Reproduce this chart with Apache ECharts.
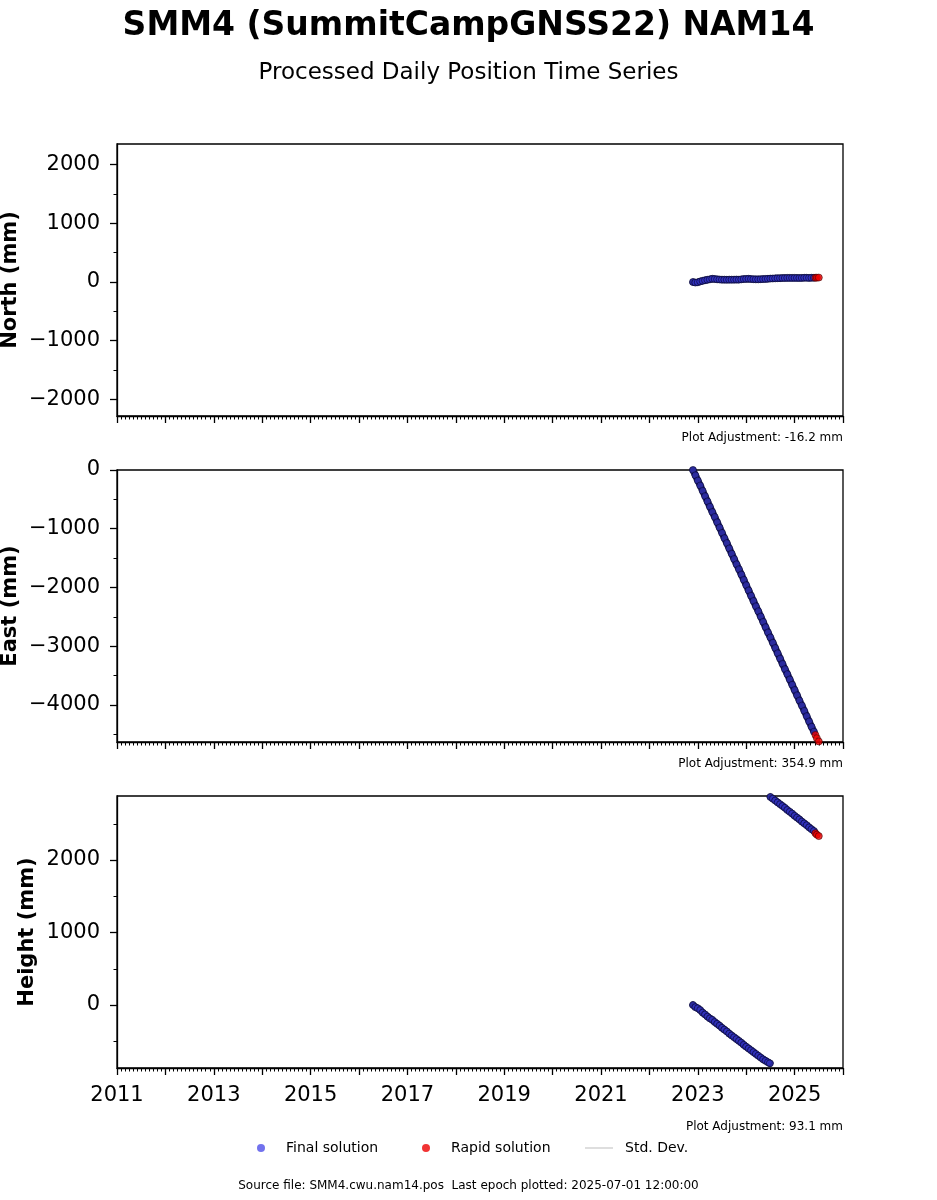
<!DOCTYPE html>
<html>
<head>
<meta charset="utf-8">
<script src="https://cdn.jsdelivr.net/npm/echarts@6/dist/echarts.min.js"></script>
<style>
html,body{margin:0;padding:0;background:#fff;}
#chart{width:937px;height:1200px;}
</style>
</head>
<body>
<div id="chart"></div>
<script>
// ---- Data (decimal years, mm) ----
const xTicks = [2011,2012,2013,2014,2015,2016,2017,2018,2019,2020,2021,2022,2023,2024,2025,2026];

const finalDates = [2022.90,2022.95,2023.00,2023.05,2023.10,2023.15,2023.20,2023.25,2023.30,2023.35,
  2023.40,2023.45,2023.50,2023.55,2023.60,2023.65,2023.70,2023.75,2023.80,2023.85,
  2023.90,2023.95,2024.00,2024.05,2024.10,2024.15,2024.20,2024.25,2024.30,2024.35,
  2024.40,2024.45,2024.50,2024.55,2024.60,2024.65,2024.70,2024.75,2024.80,2024.85,
  2024.90,2024.95,2025.00,2025.05,2025.10,2025.15,2025.20,2025.25,2025.30,2025.35,2025.40];
const rapidDates = [2025.43,2025.46,2025.50];

const northFinal = [0,-10,-5,10,20,30,38,45,55,50,
  45,42,40,40,38,40,40,40,42,40,
  45,50,52,55,50,48,45,45,48,50,
  52,55,58,60,62,65,65,68,68,70,
  70,70,70,70,68,70,72,72,70,72,72];
const northRapid = [72,74,75];

const eastFinal = [0,-90,-180,-265,-355,-445,-535,-625,-715,-800,
  -890,-980,-1070,-1160,-1245,-1335,-1425,-1515,-1605,-1690,
  -1780,-1870,-1960,-2050,-2140,-2230,-2320,-2405,-2495,-2585,
  -2675,-2765,-2850,-2940,-3030,-3120,-3210,-3300,-3390,-3475,
  -3565,-3655,-3745,-3835,-3925,-4010,-4100,-4190,-4280,-4370,-4455];
const eastRapid = [-4510,-4565,-4620];

const heightLowDates = [2022.90,2022.95,2023.00,2023.05,2023.10,2023.15,2023.20,2023.25,2023.30,2023.35,
  2023.40,2023.45,2023.50,2023.55,2023.60,2023.65,2023.70,2023.75,2023.80,2023.85,
  2023.90,2023.95,2024.00,2024.05,2024.10,2024.15,2024.20,2024.25,2024.30,2024.35,
  2024.40,2024.45,2024.49];
const heightLow = [0,-30,-45,-70,-105,-130,-160,-185,-205,-235,
  -260,-285,-315,-340,-365,-395,-420,-445,-470,-495,
  -520,-550,-575,-600,-625,-650,-675,-700,-725,-750,
  -770,-790,-805];
const heightHighDates = [2024.50,2024.55,2024.60,2024.65,2024.70,2024.75,2024.80,2024.85,2024.90,2024.95,
  2025.00,2025.05,2025.10,2025.15,2025.20,2025.25,2025.30,2025.35,2025.40];
const heightHigh = [2870,2845,2820,2795,2770,2745,2720,2690,2665,2640,
  2610,2585,2560,2530,2505,2480,2450,2425,2400];
const heightRapid = [2370,2350,2330];

const northRange = [-2283, 2351], northTicks = [-2000,-1000,0,1000,2000], northMinor = [-1500,-500,500,1500];
const eastRange = [-4630, 0], eastTicks = [-4000,-3000,-2000,-1000,0], eastMinor = [-4500,-3500,-2500,-1500,-500];
const heightRange = [-869, 2883], heightTicks = [0,1000,2000], heightMinor = [-500,500,1500,2500];

const adjustments = ['Plot Adjustment: -16.2 mm','Plot Adjustment: 354.9 mm','Plot Adjustment: 93.1 mm'];

// ---- Chart ----
const FONT = 'DejaVu Sans';
const zip = (xs, ys) => xs.map((x, i) => [x, ys[i]]);
const fmtNum = v => String(v).replace('-', '\u2212');

const grids = [
  {left:117, top:144, width:726, height:272},
  {left:117, top:470, width:726, height:272},
  {left:117, top:796, width:726, height:272}
].map(g => Object.assign(g, {show:true, containLabel:false, outerBoundsMode:'none',
  borderColor:'#000', borderWidth:1.3, backgroundColor:'transparent'}));

function xAxisFor(i, labels){
  return {
    type:'value', gridIndex:i, min:xTicks[0], max:xTicks[xTicks.length-1], interval:1,
    axisLine:{show:true, onZero:false, lineStyle:{color:'#000', width:1.3}},
    axisTick:{show:true, length:7, lineStyle:{color:'#000', width:1.3}},
    minorTick:{show:true, splitNumber:12, length:3.5, lineStyle:{color:'#000', width:1}},
    splitLine:{show:false}, minorSplitLine:{show:false},
    axisLabel:{show:labels, margin:17, color:'#000', fontFamily:FONT, fontSize:21,
      formatter: v => (Math.round(v) % 2 === 1 ? String(Math.round(v)) : '')}
  };
}
function yMain(i, range, ticks, name, gap){
  return {
    type:'value', gridIndex:i, min:range[0], max:range[1],
    name:name, nameLocation:'middle', nameGap:gap, nameRotate:90, nameMoveOverlap:false,
    nameTextStyle:{fontFamily:FONT, fontSize:21, fontWeight:'bold', color:'#000'},
    axisLine:{show:true, onZero:false, lineStyle:{color:'#000', width:1.3}},
    axisTick:{show:true, length:7, customValues:ticks, lineStyle:{color:'#000', width:1.3}},
    axisLabel:{show:true, customValues:ticks, margin:17, color:'#000', fontFamily:FONT, fontSize:21, formatter: fmtNum},
    splitLine:{show:false}
  };
}
function yMinor(i, range, minors){
  return {
    type:'value', gridIndex:i, min:range[0], max:range[1], position:'left',
    axisLine:{show:false, onZero:false},
    axisTick:{show:true, length:3.5, customValues:minors, lineStyle:{color:'#000', width:1}},
    axisLabel:{show:false, customValues:minors},
    splitLine:{show:false}
  };
}

const finalStyle = {color:'rgba(55,55,210,0.7)', borderColor:'rgba(0,0,30,0.9)', borderWidth:0.8};
const rapidStyle = {color:'#ee0000', borderColor:'rgba(60,0,0,0.9)', borderWidth:0.8};
function sc(name, xi, yi, data, style){
  return {name:name, type:'scatter', xAxisIndex:xi, yAxisIndex:yi, data:data, symbol:'circle', symbolSize:7,
    itemStyle:style, animation:false, clip:true, emphasis:{disabled:true}, z:3};
}
// dense band under the daily markers (same data, drawn as a thick line)
function band(xi, yi, data){
  return {type:'line', xAxisIndex:xi, yAxisIndex:yi, data:data, showSymbol:false, symbol:'none', clip:true,
    lineStyle:{color:'#1c1c5c', width:7, cap:'round', join:'round'}, animation:false, silent:true, z:2};
}

const option = {
  backgroundColor:'#fff',
  animation:false,
  title:[
    {text:'SMM4 (SummitCampGNSS22) NAM14', left:'center', top:5,
      textStyle:{fontFamily:FONT, fontSize:33, fontWeight:'bold', color:'#000'}},
    {text:'Processed Daily Position Time Series', left:'center', top:57,
      textStyle:{fontFamily:FONT, fontSize:23, fontWeight:'normal', color:'#000'}}
  ],
  grid: grids,
  xAxis:[xAxisFor(0,false), xAxisFor(1,false), xAxisFor(2,true)],
  yAxis:[
    yMain(0, northRange, northTicks, 'North (mm)', 96),
    yMain(1, eastRange, eastTicks, 'East (mm)', 96),
    yMain(2, heightRange, heightTicks, 'Height (mm)', 79),
    yMinor(0, northRange, northMinor),
    yMinor(1, eastRange, eastMinor),
    yMinor(2, heightRange, heightMinor)
  ],
  legend:[
    {data:['Final solution'], left:257, top:1141, padding:0, itemWidth:40, itemHeight:8, icon:'circle',
      itemStyle:{color:'#4f4fe8', borderWidth:0},
      textStyle:{fontFamily:FONT, fontSize:14, color:'#000'}, selectedMode:false},
    {data:['Rapid solution'], left:422, top:1141, padding:0, itemWidth:40, itemHeight:8, icon:'circle',
      itemStyle:{color:'#ee0000', borderWidth:0},
      textStyle:{fontFamily:FONT, fontSize:14, color:'#000'}, selectedMode:false},
    {data:['Std. Dev.'], left:585, top:1141, padding:0, itemWidth:28, itemHeight:1.5, icon:'rect',
      textStyle:{fontFamily:FONT, fontSize:14, color:'#000', padding:[0,0,0,7]}, selectedMode:false}
  ],
  graphic:[
    {type:'text', right:937-843, top:432, style:{text:adjustments[0], font:'12px "DejaVu Sans"', fill:'#000', textAlign:'right'}},
    {type:'text', right:937-843, top:758, style:{text:adjustments[1], font:'12px "DejaVu Sans"', fill:'#000', textAlign:'right'}},
    {type:'text', right:937-843, top:1121, style:{text:adjustments[2], font:'12px "DejaVu Sans"', fill:'#000', textAlign:'right'}},
    {type:'text', left:'center', top:1180, style:{text:'Source file: SMM4.cwu.nam14.pos  Last epoch plotted: 2025-07-01 12:00:00', font:'12px "DejaVu Sans"', fill:'#000'}}
  ],
  series:[
    band(0, 0, zip(finalDates, northFinal)),
    band(1, 1, zip(finalDates, eastFinal)),
    band(2, 2, zip(heightLowDates, heightLow)),
    band(2, 2, zip(heightHighDates, heightHigh)),
    sc('Final solution', 0, 0, zip(finalDates, northFinal), finalStyle),
    sc('Rapid solution', 0, 0, zip(rapidDates, northRapid), rapidStyle),
    sc('Final solution', 1, 1, zip(finalDates, eastFinal), finalStyle),
    sc('Rapid solution', 1, 1, zip(rapidDates, eastRapid), rapidStyle),
    sc('Final solution', 2, 2, zip(heightLowDates, heightLow).concat(zip(heightHighDates, heightHigh)), finalStyle),
    sc('Rapid solution', 2, 2, zip(rapidDates, heightRapid), rapidStyle),
    {name:'Std. Dev.', type:'line', xAxisIndex:2, yAxisIndex:2, data:[], itemStyle:{color:'#d3d3d3'}, lineStyle:{color:'#d3d3d3'}}
  ]
};

const chart = echarts.init(document.getElementById('chart'), null, {renderer:'canvas'});
chart.setOption(option);
</script>
</body>
</html>
